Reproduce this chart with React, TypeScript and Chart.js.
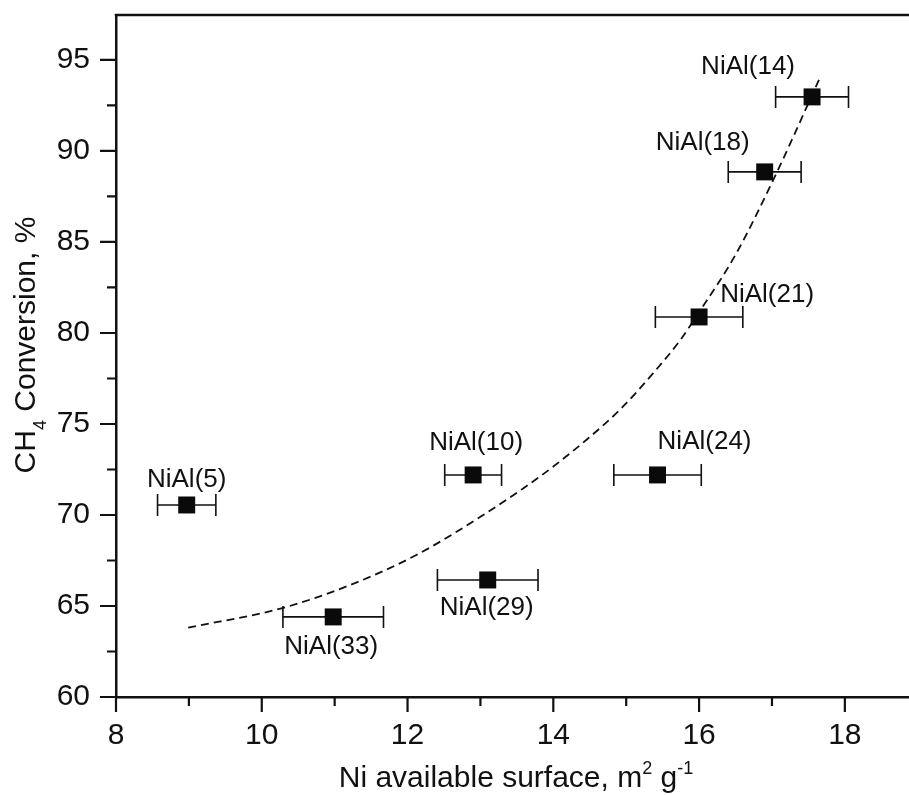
import React, { useEffect, useRef } from 'react';
import { Chart, registerables } from 'chart.js';

Chart.register(...registerables);

const FONT = '"Liberation Sans", Arial, Helvetica, sans-serif';

// ---- data ----
const sampleNames = ['NiAl(5)', 'NiAl(33)', 'NiAl(10)', 'NiAl(29)', 'NiAl(24)', 'NiAl(21)', 'NiAl(18)', 'NiAl(14)'];
const niSurface = [8.97, 10.98, 12.9, 13.1, 15.43, 16.0, 16.9, 17.55];
const ch4Conversion = [70.55, 64.4, 72.2, 66.43, 72.2, 80.88, 88.85, 92.97];
const niSurfaceErr = [0.4, 0.69, 0.39, 0.69, 0.6, 0.6, 0.5, 0.5];

const fitSurface = [8.99, 10.27, 11.21, 12.12, 13.04, 13.59, 14.0, 14.46, 14.91, 15.37, 15.74, 16.01, 16.51, 17.06, 17.66];
const fitConversion = [63.81, 64.87, 66.15, 67.8, 70.0, 71.47, 72.66, 74.15, 75.77, 77.79, 79.6, 81.2, 84.37, 88.77, 94.04];

const xTickStep = 2;
const yTickStep = 5;

// ---- styling (label offsets in px relative to each marker) ----
const labelOffsets: [number, number][] = [
  [0, -25],
  [-2, 30],
  [3, -32],
  [-1, 28],
  [47, -33],
  [68, -22],
  [-62, -29],
  [-64, -30],
];

type Seg = { t: string; size: number; dy: number };

function drawSegments(ctx: CanvasRenderingContext2D, segs: Seg[], startX: number, baseY: number) {
  let x = startX;
  for (const s of segs) {
    ctx.font = `${s.size}px ${FONT}`;
    ctx.fillText(s.t, x, baseY + s.dy);
    x += ctx.measureText(s.t).width;
  }
}
function segWidth(ctx: CanvasRenderingContext2D, segs: Seg[]) {
  let w = 0;
  for (const s of segs) {
    ctx.font = `${s.size}px ${FONT}`;
    w += ctx.measureText(s.t).width;
  }
  return w;
}

export default function App() {
  const ref = useRef<HTMLCanvasElement>(null);

  useEffect(() => {
    document.body.style.margin = '0';
    document.body.style.overflow = 'hidden';
    const canvas = ref.current;
    if (!canvas) return;

    const originPlugin = {
      id: 'originStyle',
      beforeDatasetsDraw(chart: any) {
        const ctx: CanvasRenderingContext2D = chart.ctx;
        const xs = chart.scales.x;
        const ys = chart.scales.y;
        ctx.save();
        ctx.strokeStyle = '#111';
        ctx.lineWidth = 1.6;
        for (let i = 0; i < niSurface.length; i++) {
          const y = ys.getPixelForValue(ch4Conversion[i]);
          const x1 = xs.getPixelForValue(niSurface[i] - niSurfaceErr[i]);
          const x2 = xs.getPixelForValue(niSurface[i] + niSurfaceErr[i]);
          ctx.beginPath();
          ctx.moveTo(x1, y);
          ctx.lineTo(x2, y);
          ctx.moveTo(x1, y - 11);
          ctx.lineTo(x1, y + 11);
          ctx.moveTo(x2, y - 11);
          ctx.lineTo(x2, y + 11);
          ctx.stroke();
        }
        ctx.restore();
      },
      afterDraw(chart: any) {
        const ctx: CanvasRenderingContext2D = chart.ctx;
        const xs = chart.scales.x;
        const ys = chart.scales.y;
        const area = chart.chartArea;
        ctx.save();
        ctx.strokeStyle = '#111';
        ctx.fillStyle = '#111';

        // top frame
        ctx.lineWidth = 2.5;
        ctx.beginPath();
        ctx.moveTo(area.left - 1.25, area.top);
        ctx.lineTo(area.right, area.top);
        ctx.stroke();

        // ticks (major + minor)
        ctx.lineWidth = 2.2;
        const xMajor = xs.ticks
          .map((t: any) => t.value)
          .filter((v: number) => Math.abs(v / xTickStep - Math.round(v / xTickStep)) < 1e-6);
        const yMajor = ys.ticks
          .map((t: any) => t.value)
          .filter((v: number) => Math.abs(v / yTickStep - Math.round(v / yTickStep)) < 1e-6);
        ctx.beginPath();
        for (const v of xMajor) {
          const px = xs.getPixelForValue(v);
          ctx.moveTo(px, area.bottom);
          ctx.lineTo(px, area.bottom + 15);
          const m = v + xTickStep / 2;
          if (m <= xs.max) {
            const pm = xs.getPixelForValue(m);
            ctx.moveTo(pm, area.bottom);
            ctx.lineTo(pm, area.bottom + 9);
          }
        }
        for (const v of yMajor) {
          const py = ys.getPixelForValue(v);
          ctx.moveTo(area.left, py);
          ctx.lineTo(area.left - 16, py);
          const m = v + yTickStep / 2;
          if (m <= ys.max) {
            const pm = ys.getPixelForValue(m);
            ctx.moveTo(area.left, pm);
            ctx.lineTo(area.left - 9, pm);
          }
        }
        ctx.stroke();

        // tick labels
        ctx.font = `30px ${FONT}`;
        ctx.textBaseline = 'middle';
        ctx.textAlign = 'center';
        for (const v of xMajor) {
          ctx.fillText(String(v), xs.getPixelForValue(v), area.bottom + 39);
        }
        ctx.textAlign = 'right';
        for (const v of yMajor) {
          ctx.fillText(String(v), area.left - 26, ys.getPixelForValue(v));
        }

        // x title
        ctx.textAlign = 'left';
        ctx.textBaseline = 'alphabetic';
        const xSegs: Seg[] = [
          { t: 'Ni available surface, m', size: 30, dy: 0 },
          { t: '2', size: 18, dy: -13 },
          { t: ' g', size: 30, dy: 0 },
          { t: '-1', size: 18, dy: -13 },
        ];
        const xw = segWidth(ctx, xSegs);
        drawSegments(ctx, xSegs, 516 - xw / 2, 787);

        // y title
        const ySegs: Seg[] = [
          { t: 'CH', size: 30, dy: 0 },
          { t: '4', size: 18, dy: 11 },
          { t: ' Conversion, %', size: 30, dy: 0 },
        ];
        const yw = segWidth(ctx, ySegs);
        ctx.save();
        ctx.translate(35, 345);
        ctx.rotate(-Math.PI / 2);
        drawSegments(ctx, ySegs, -yw / 2, 0);
        ctx.restore();

        // point labels
        ctx.font = `26px ${FONT}`;
        ctx.textAlign = 'center';
        ctx.textBaseline = 'middle';
        for (let i = 0; i < sampleNames.length; i++) {
          const px = xs.getPixelForValue(niSurface[i]);
          const py = ys.getPixelForValue(ch4Conversion[i]);
          ctx.fillText(sampleNames[i], px + labelOffsets[i][0], py + labelOffsets[i][1]);
        }
        ctx.restore();
      },
    };

    const chart = new Chart(canvas, {
      type: 'scatter',
      data: {
        datasets: [
          {
            label: 'samples',
            data: niSurface.map((x, i) => ({ x, y: ch4Conversion[i] })),
            pointStyle: 'rect',
            pointRadius: 12,
            pointHoverRadius: 12,
            backgroundColor: '#0a0a0a',
            borderWidth: 0,
            showLine: false,
          },
          {
            label: 'fit',
            data: fitSurface.map((x, i) => ({ x, y: fitConversion[i] })),
            showLine: true,
            pointRadius: 0,
            borderColor: '#111',
            borderWidth: 1.8,
            borderDash: [8, 5],
            cubicInterpolationMode: 'monotone',
            fill: false,
          } as any,
        ],
      },
      options: {
        responsive: false,
        animation: false,
        events: [],
        layout: { autoPadding: false, padding: { top: 15, left: 0, right: 0, bottom: 0 } },
        plugins: { legend: { display: false }, tooltip: { enabled: false } },
        scales: {
          x: {
            type: 'linear',
            min: 8,
            max: 18.88,
            ticks: { display: false, stepSize: xTickStep, includeBounds: false },
            grid: { display: false },
            border: { display: true, color: '#111', width: 2.5 },
            afterFit: (s: any) => {
              s.height = 98;
            },
          },
          y: {
            type: 'linear',
            min: 60,
            max: 97.47,
            ticks: { display: false, stepSize: yTickStep, includeBounds: false },
            grid: { display: false },
            border: { display: true, color: '#111', width: 2.5 },
            afterFit: (s: any) => {
              s.width = 116;
            },
          },
        },
      },
      plugins: [originPlugin],
    } as any);

    return () => chart.destroy();
  }, []);

  return (
    <div style={{ width: 909, height: 795, background: '#fff' }}>
      <canvas ref={ref} width={909} height={795} style={{ display: 'block' }} />
    </div>
  );
}
